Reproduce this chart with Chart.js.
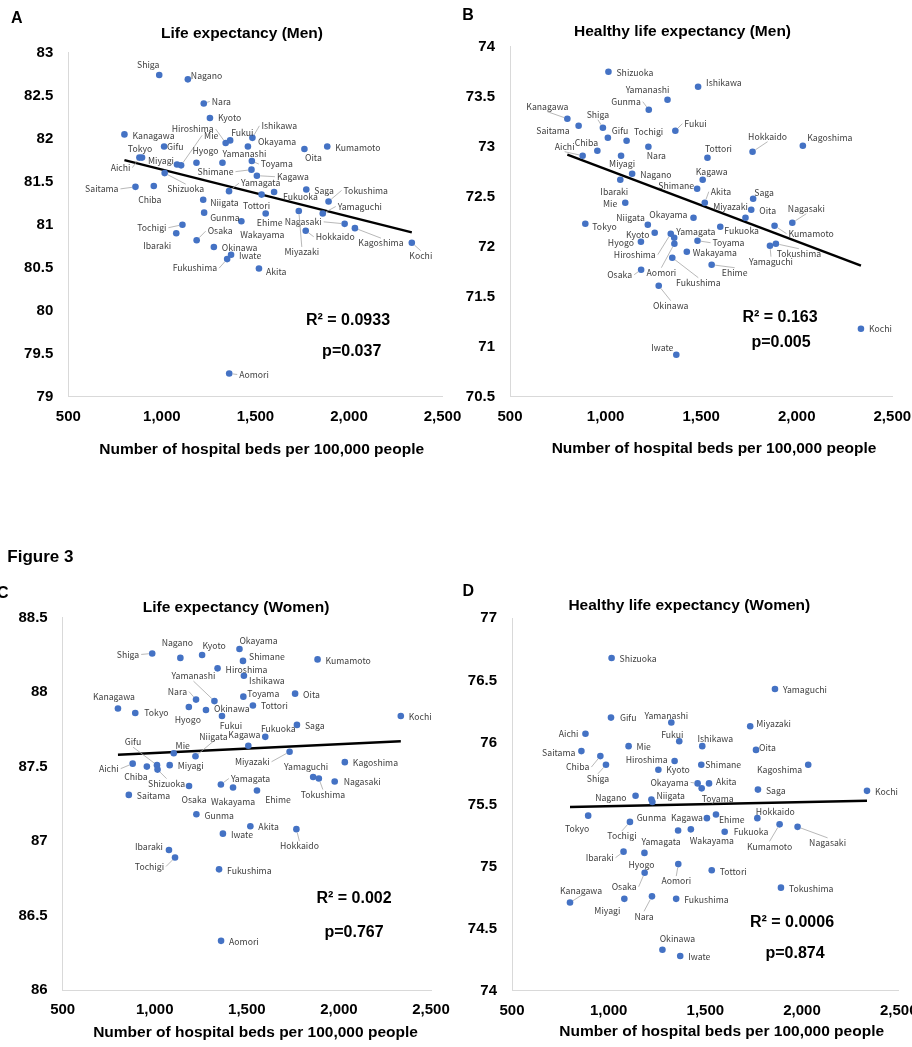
<!DOCTYPE html>
<html>
<head>
<meta charset="utf-8">
<script src="https://cdn.jsdelivr.net/npm/chart.js@4.4.1/dist/chart.umd.min.js"></script>
<style>
  body { margin: 0; background: #fff; width: 912px; height: 1047px; position: relative; overflow: hidden; }
  canvas { position: absolute; }
</style>
</head>
<body>
<canvas id="cA"></canvas>
<canvas id="cB"></canvas>
<canvas id="cC"></canvas>
<canvas id="cD"></canvas>
<script>
// ---- data ----
const prefectures = ['Hokkaido','Aomori','Iwate','Miyagi','Akita','Yamagata','Fukushima','Ibaraki','Tochigi','Gunma',
  'Saitama','Chiba','Tokyo','Kanagawa','Niigata','Toyama','Ishikawa','Fukui','Yamanashi','Nagano','Gifu','Shizuoka',
  'Aichi','Mie','Shiga','Kyoto','Osaka','Hyogo','Nara','Wakayama','Tottori','Shimane','Okayama','Hiroshima',
  'Yamaguchi','Tokushima','Kagawa','Ehime','Kochi','Fukuoka','Saga','Nagasaki','Kumamoto','Oita','Miyazaki',
  'Kagoshima','Okinawa'];

// hospital beds per 100,000 people
const beds = [1769,1360,1370,1081,1519,1359,1349,1077,1110,1226,859,957,894,800,1221,1481,1484,1365,1324,1139,
  1012,1015,880,1103,986,1257,1186,1185,1224,1425,1533,1479,1460,1341,1860,1891,1508,1555,2336,1600,1772,1977,
  1884,1762,1732,2032,1278];

const lifeMen = [80.93,79.27,80.65,81.70,80.49,81.39,80.60,80.90,81.00,81.14,81.44,81.45,81.78,82.05,81.29,81.74,
  82.01,81.98,81.72,82.69,81.91,81.60,81.78,81.69,82.74,82.24,80.82,81.72,82.41,81.04,81.35,81.64,81.91,81.95,
  81.13,81.27,81.57,81.13,80.79,81.38,81.41,81.01,81.91,81.88,81.16,80.96,80.74];

const healthyMen = [72.95,72.03,70.92,72.91,72.44,72.09,71.89,72.67,73.06,73.37,73.21,72.96,72.23,73.28,72.22,72.06,
  73.60,73.16,73.47,72.73,73.09,73.75,72.91,72.44,73.19,72.14,71.77,72.05,73.00,71.95,72.89,72.58,72.29,72.13,
  72.01,72.03,72.67,71.82,71.18,72.20,72.48,72.24,72.21,72.37,72.29,73.01,71.61];

const lifeWomen = [87.08,86.33,87.05,87.51,87.10,87.38,86.81,86.94,86.89,87.18,87.31,87.50,87.86,87.89,87.57,87.97,
  88.11,87.84,87.94,88.23,87.51,87.48,87.52,87.59,88.26,88.25,87.37,87.90,87.95,87.36,87.91,88.21,88.29,88.16,
  87.43,87.42,87.64,87.34,87.84,87.70,87.78,87.40,88.22,87.99,87.60,87.53,87.88];

const healthyWomen = [75.39,75.02,74.28,74.74,75.67,75.29,74.74,75.12,75.36,75.52,75.93,75.89,75.41,74.71,75.54,75.63,
  75.97,76.01,76.16,75.57,76.20,76.68,76.07,75.97,75.82,75.78,74.95,75.11,74.76,75.30,74.97,75.82,75.67,75.85,
  76.43,74.83,75.39,75.42,75.61,75.28,75.62,75.32,75.34,75.94,76.13,75.82,74.33];

// trend line end points
const trendX = [800, 2336];
const trendLifeMen = [81.75, 80.91];
const trendHealthyMen = [72.92, 71.81];
const trendLifeWomen = [87.58, 87.67];
const trendHealthyWomen = [75.48, 75.53];

const titles = ['Life expectancy (Men)', 'Healthy life expectancy (Men)', 'Life expectancy (Women)', 'Healthy life expectancy (Women)'];
const r2Labels = ['R\u00b2 = 0.0933', 'R\u00b2 = 0.163', 'R\u00b2 = 0.002', 'R\u00b2 = 0.0006'];
const pLabels = ['p=0.037', 'p=0.005', 'p=0.767', 'p=0.874'];
const xTitle = 'Number of hospital beds per 100,000 people';

// ---- label placement: [dx, dy, align(l/r/c), leader] ----
const DEF = [8, 1, 'l', 0];
const offA = {
  Shiga:[-11,-10,'c'], Nagano:[3,-4,'l'], Nara:[8,-2,'l',1], Kyoto:[8,0,'l'], Hiroshima:[-12,-14,'r',1],
  Fukui:[1,-8,'l'], Ishikawa:[9,-12,'l',1], Okayama:[10,-5,'l'], Mie:[23,-30,'l',1], Gifu:[3,0,'l'],
  Tokyo:[-2,-9,'c'], Aichi:[-9,10,'r',1], Miyagi:[-3,-4,'r'], Hyogo:[9,-12,'c'], Yamanashi:[22,-9,'c'],
  Toyama:[9,3,'l',1], Oita:[9,9,'c'], Shizuoka:[21,16,'c',1], Shimane:[-18,2,'r',1], Kagawa:[20,1,'l',1],
  Saitama:[-17,2,'r',1], Chiba:[-4,14,'c'], Yamagata:[12,-8,'l',1], Tottori:[-5,11,'c'], Fukuoka:[9,5,'l'],
  Tokushima:[15,-11,'l',1], Yamaguchi:[15,-7,'l',1], Niigata:[7,3,'l'], Gunma:[6,5,'l'], Ehime:[4,9,'c'],
  Miyazaki:[3,41,'c',1], Nagasaki:[-23,-2,'r',1], Wakayama:[21,13,'c'], Kagoshima:[26,15,'c',1],
  Hokkaido:[10,6,'l',1], Kochi:[9,13,'c',1], Tochigi:[-16,3,'r',1], Ibaraki:[-19,12,'c'], Osaka:[11,-9,'l',1],
  Fukushima:[-10,9,'r',1], Akita:[7,3,'l'], Aomori:[10,1,'l',1]
};
const offB = {
  Ishikawa:[8,-4,'l'], Yamanashi:[-20,-10,'c'], Gunma:[-8,-8,'r',1], Kanagawa:[-20,-12,'c',1], Saitama:[-9,5,'r'],
  Shiga:[-5,-13,'c',1], Gifu:[4,-7,'l'], Tochigi:[22,-9,'c'], Fukui:[9,-7,'l',1], Nara:[8,9,'c'],
  Hokkaido:[15,-15,'c',1], Kagoshima:[27,-8,'c'], Aichi:[-18,-9,'c',1], Chiba:[-11,-8,'c'], Miyagi:[1,8,'c'],
  Tottori:[11,-9,'c'], Ibaraki:[-6,12,'c'], Kagawa:[9,-8,'c'], Shimane:[-3,-3,'r'], Saga:[11,-6,'c'],
  Akita:[6,-11,'l',1], Mie:[-8,1,'r'], Miyazaki:[-15,-11,'c'], Nagasaki:[14,-14,'c',1], Okayama:[-6,-3,'r'],
  Niigata:[-3,-7,'r'], Tokyo:[7,3,'l'], Kumamoto:[14,8,'l',1], Fukuoka:[4,4,'l'], Kyoto:[-17,2,'c'],
  Hiroshima:[-15,21,'r',1], Yamagata:[2,-6,'l'], Aomori:[-13,29,'c',1], Hyogo:[-7,1,'r'], Toyama:[15,2,'l',1],
  Wakayama:[6,1,'l'], Yamaguchi:[1,16,'c',1], Tokushima:[23,10,'c',1], Ehime:[23,8,'c',1],
  Fukushima:[26,25,'c',1], Osaka:[-9,5,'r',1], Okinawa:[12,20,'c',1], Kochi:[8,0,'l'], Iwate:[-14,-7,'c']
};
const offC = {
  Shiga:[-13,1,'r',1], Nagano:[-3,-15,'c'], Kyoto:[12,-9,'c'], Okayama:[19,-8,'c'], Shimane:[6,-4,'l'],
  Ishikawa:[23,5,'c'], Kanagawa:[-4,-12,'c'], Tokyo:[9,0,'l'], Nara:[-9,-8,'r',1], Yamanashi:[-21,-25,'c',1],
  Hyogo:[-1,13,'c'], Okinawa:[8,-1,'l'], Fukui:[9,10,'c'], Toyama:[4,-3,'l'], Tottori:[8,0,'l'],
  Fukuoka:[13,-8,'c'], Kagawa:[-4,-11,'c'], Niigata:[18,-20,'c',1], Mie:[9,-8,'c'], Miyazaki:[-20,10,'r',1],
  Aichi:[-14,5,'r',1], Chiba:[-11,10,'c'], Gifu:[-24,-23,'c',1], Shizuoka:[9,14,'c',1], Yamaguchi:[-7,-10,'c'],
  Tokushima:[4,16,'c',1], Nagasaki:[9,0,'l'], Yamagata:[10,-6,'l',1], Wakayama:[0,14,'c'], Ehime:[21,9,'c'],
  Osaka:[5,14,'c'], Hokkaido:[3,17,'c',1], Ibaraki:[-6,-3,'r'], Tochigi:[-11,9,'r',1]
};
const offD = {
  Gifu:[9,0,'l'], Yamanashi:[-5,-7,'c'], Miyazaki:[6,-3,'l'], Aichi:[-7,0,'r'], Fukui:[-7,-6,'c'],
  Ishikawa:[13,-7,'c'], Oita:[3,-2,'l'], Saitama:[-6,2,'r'], Chiba:[-11,11,'r',1], Shiga:[-8,14,'c',1],
  Hiroshima:[-7,-1,'r'], Shimane:[4,0,'l'], Kagoshima:[-6,5,'r'], Kyoto:[8,0,'l'], Okayama:[-9,-1,'r',1],
  Akita:[7,-2,'l'], Toyama:[16,10,'c'], Nagano:[-9,2,'r'], Niigata:[5,-4,'l'], Gunma:[-1,16,'c'],
  Tochigi:[-8,14,'c',1], Tokyo:[-11,13,'c'], Kagawa:[-4,0,'r'], Ehime:[3,5,'l'], Hokkaido:[18,-6,'c'],
  Yamagata:[-17,11,'c'], Wakayama:[21,11,'c'], Fukuoka:[9,0,'l'], Kumamoto:[-10,22,'c',1],
  Nagasaki:[30,16,'c',1], Ibaraki:[-10,6,'r',1], Hyogo:[-3,12,'c'], Osaka:[-8,14,'r',1], Aomori:[-2,17,'c',1],
  Kanagawa:[11,-12,'c',1], Miyagi:[-17,12,'c'], Nara:[-8,20,'c',1], Okinawa:[15,-11,'c']
};

// ---- panel layout (page coordinates) ----
const panels = [
  { id: 'cA', left: 0, top: 0, w: 470, h: 470, area: [68.3, 442.5, 52.7, 396.7], ys: lifeMen, trend: trendLifeMen,
    ymin: 79, ymax: 83, offs: offA, idx: 0, letter: ['A', 16.7, 18.3],
    title: [242, 33.3], xt: [261.7, 449.3], r2: [348, 320.7], p: [351.7, 351.7] },
  { id: 'cB', left: 450, top: 0, w: 462, h: 470, area: [510, 892.3, 46.7, 396.7], ys: healthyMen, trend: trendHealthyMen,
    ymin: 70.5, ymax: 74, offs: offB, idx: 1, letter: ['B', 468, 16],
    title: [682.5, 31.7], xt: [714, 448.3], r2: [780, 317.3], p: [781, 342.7] },
  { id: 'cC', left: 0, top: 470, w: 470, h: 577, area: [62.7, 431, 617.7, 990], ys: lifeWomen, trend: trendLifeWomen,
    ymin: 86, ymax: 88.5, offs: offC, idx: 2, letter: ['C', 2.7, 593.3],
    title: [236, 607.7], xt: [255.5, 1033], r2: [354, 898.3], p: [354, 932.7], fig: [7.3, 557.3] },
  { id: 'cD', left: 450, top: 470, w: 462, h: 577, area: [512, 898.7, 618.3, 990.7], ys: healthyWomen, trend: trendHealthyWomen,
    ymin: 74, ymax: 77, offs: offD, idx: 3, letter: ['D', 468.3, 591.7],
    title: [689.3, 606], xt: [721.7, 1031.5], r2: [792, 922.7], p: [795, 954] },
];

const YW = 60, XH = 30;
const LABEL_FONT = '8.7px "Noto Sans CJK JP"';
const BOLD = 'bold {s}px "Liberation Sans", Arial, sans-serif';
const f = s => BOLD.replace('{s}', s);

function makeAnnotator(p) {
  return {
    id: 'annotate' + p.idx,
    afterDraw(chart) {
      const ctx = chart.ctx;
      const ox = p.left, oy = p.top;
      const meta = chart.getDatasetMeta(0);
      ctx.save();
      ctx.textBaseline = 'middle';
      ctx.font = LABEL_FONT;
      meta.data.forEach((pt, i) => {
        const name = prefectures[i];
        const [dx, dy, al, lead] = p.offs[name] || DEF;
        const lx = pt.x + dx, ly = pt.y + dy;
        if (lead) {
          let tx, ty;
          if (al === 'l') { tx = lx - 2; ty = ly; }
          else if (al === 'r') { tx = lx + 2; ty = ly; }
          else { tx = lx; ty = dy < 0 ? ly + 5 : ly - 5; }
          const d = Math.hypot(tx - pt.x, ty - pt.y) || 1;
          ctx.beginPath();
          ctx.moveTo(pt.x + (tx - pt.x) * 3.5 / d, pt.y + (ty - pt.y) * 3.5 / d);
          ctx.lineTo(tx, ty);
          ctx.strokeStyle = '#a6a6a6';
          ctx.lineWidth = 0.8;
          ctx.stroke();
        }
        ctx.fillStyle = '#404040';
        ctx.textAlign = al === 'l' ? 'left' : al === 'r' ? 'right' : 'center';
        ctx.fillText(name, lx, ly);
      });

      const txt = (s, x, y, font, align) => {
        ctx.font = font;
        ctx.textAlign = align || 'center';
        ctx.fillStyle = '#000';
        ctx.fillText(s, x - ox, y - oy);
      };
      txt(p.letter[0], p.letter[1], p.letter[2], f(16));
      if (p.fig) txt('Figure 3', p.fig[0], p.fig[1], f(17), 'left');
      txt(titles[p.idx], p.title[0], p.title[1], f(15.5));
      txt(xTitle, p.xt[0], p.xt[1], f(15.5));
      txt(r2Labels[p.idx], p.r2[0], p.r2[1], f(16));
      txt(pLabels[p.idx], p.p[0], p.p[1], f(16));
      ctx.restore();
    }
  };
}

panels.forEach(p => {
  const cv = document.getElementById(p.id);
  cv.width = p.w; cv.height = p.h;
  cv.style.left = p.left + 'px'; cv.style.top = p.top + 'px';
  const [x0, x1, y0, y1] = p.area;

  new Chart(cv, {
    type: 'scatter',
    data: {
      datasets: [
        {
          data: beds.map((b, i) => ({ x: b, y: p.ys[i] })),
          backgroundColor: '#4472C4',
          borderColor: '#4472C4',
          borderWidth: 0,
          pointRadius: 3.3,
        },
        {
          data: trendX.map((x, i) => ({ x, y: p.trend[i] })),
          showLine: true,
          borderColor: '#000',
          borderWidth: 2.4,
          pointRadius: 0,
          fill: false,
        }
      ]
    },
    options: {
      responsive: false,
      animation: false,
      events: [],
      layout: {
        padding: {
          left: x0 - p.left - YW,
          right: p.left + p.w - x1,
          top: y0 - p.top,
          bottom: p.top + p.h - y1 - XH,
        }
      },
      plugins: { legend: { display: false }, tooltip: { enabled: false }, title: { display: false } },
      scales: {
        x: {
          type: 'linear',
          min: 500, max: 2500,
          grid: { display: false, drawTicks: false },
          border: { color: '#d9d9d9', width: 1 },
          ticks: {
            stepSize: 500,
            padding: 11,
            color: '#000',
            font: { family: '"Liberation Sans", Arial, sans-serif', size: 15, weight: 'bold' },
            callback: v => v.toLocaleString('en-US'),
          },
          afterFit: s => { s.height = XH; s.paddingLeft = 0; s.paddingRight = 0; },
        },
        y: {
          min: p.ymin, max: p.ymax,
          grid: { display: false, drawTicks: false },
          border: { color: '#d9d9d9', width: 1 },
          ticks: {
            stepSize: 0.5,
            padding: 15,
            color: '#000',
            font: { family: '"Liberation Sans", Arial, sans-serif', size: 15, weight: 'bold' },
            callback: v => String(Math.round(v * 10) / 10),
          },
          afterFit: s => { s.width = YW; s.paddingTop = 0; s.paddingBottom = 0; },
        }
      }
    },
    plugins: [makeAnnotator(p)]
  });
});
</script>
</body>
</html>
